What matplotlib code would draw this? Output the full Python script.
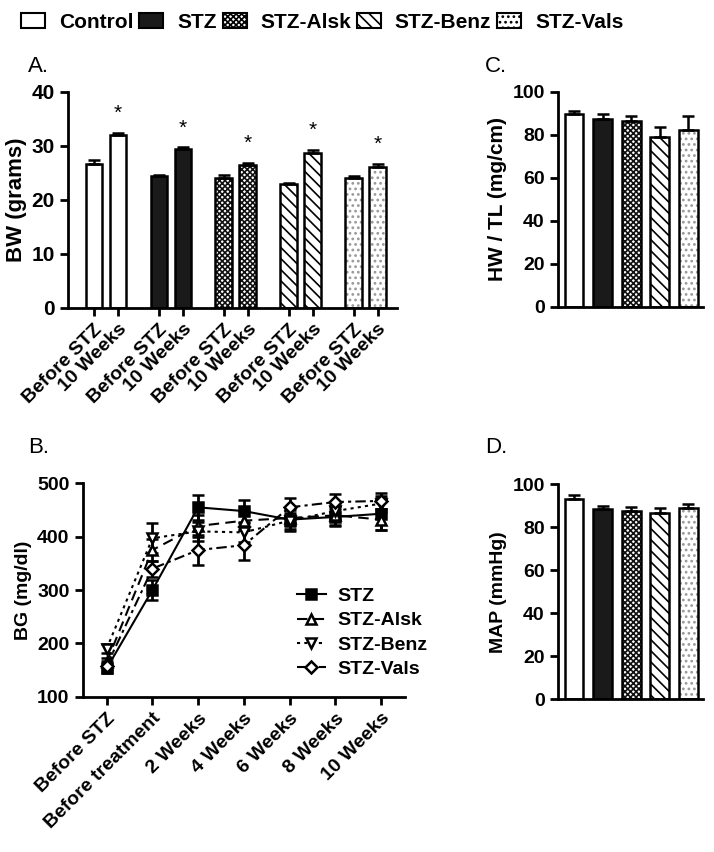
import numpy as np
import matplotlib
import matplotlib.pyplot as plt
from matplotlib.patches import Patch
from matplotlib.lines import Line2D

matplotlib.use('Agg')

plt.rcParams['font.family'] = ['Liberation Sans', 'DejaVu Sans']
plt.rcParams['font.weight'] = 'bold'
plt.rcParams['hatch.linewidth'] = 1.2

# groups and values
groups = ['Control', 'STZ', 'STZ-Alsk', 'STZ-Benz', 'STZ-Vals']
bw_labels = ['Before STZ', '10 Weeks']
bw_before = [26.7, 24.3, 24.1, 22.9, 24.1]
bw_before_err = [0.6, 0.3, 0.4, 0.15, 0.3]
bw_10wk = [31.9, 29.4, 26.4, 28.6, 26.1]
bw_10wk_err = [0.4, 0.3, 0.4, 0.6, 0.5]

hw_tl = [89.6, 87.3, 86.4, 78.8, 82.2]
hw_tl_err = [1.6, 2.3, 2.1, 5.0, 6.5]

mean_ap = [93.2, 88.5, 87.4, 86.8, 88.8]
mean_ap_err = [1.8, 1.6, 2.1, 2.3, 1.9]

timepoints = ['Before STZ', 'Before treatment', '2 Weeks', '4 Weeks',
              '6 Weeks', '8 Weeks', '10 Weeks']
bg_stz = [153, 300, 455, 448, 432, 437, 443]
bg_stz_err = [8, 18, 23, 20, 22, 17, 30]
bg_alsk = [165, 375, 420, 430, 435, 440, 432]
bg_alsk_err = [8, 20, 20, 18, 15, 18, 20]
bg_benz = [190, 397, 410, 408, 430, 448, 462]
bg_benz_err = [8, 28, 18, 18, 15, 15, 15]
bg_vals = [158, 340, 375, 384, 455, 465, 467]
bg_vals_err = [8, 15, 28, 28, 18, 15, 15]

# fill style per group: (facecolor, hatch, hatch colour)
styles = [('white', None, 'k'),
          ('#1a1a1a', None, 'k'),
          ('white', 'xxxxxx', '#111111'),
          ('white', '\\\\\\', 'k'),
          ('white', '...', '#999999')]


def style_axis(ax):
    ax.spines['top'].set_visible(False)
    ax.spines['right'].set_visible(False)
    ax.spines['left'].set_linewidth(2)
    ax.spines['bottom'].set_linewidth(2)
    ax.tick_params(width=2, length=6, labelsize=14)


def draw_bar(ax, x, h, err, width, style):
    face, hatch, hcol = style
    ax.bar(x, h, width, color=face, hatch=hatch, edgecolor=hcol, linewidth=0)
    ax.bar(x, h, width, fill=False, edgecolor='k', linewidth=1.8)
    ax.errorbar(x, h, yerr=[[0], [err]], fmt='none', ecolor='k',
                elinewidth=1.8, capsize=4, capthick=1.8)


fig = plt.figure(figsize=(7.14, 8.52), dpi=100)

# --- A: body weight
axA = fig.add_axes([0.0952, 0.6388, 0.4608, 0.2536])
xticks = []
for i in range(len(groups)):
    for off, vals, errs in [(-0.185, bw_before, bw_before_err),
                            (0.185, bw_10wk, bw_10wk_err)]:
        draw_bar(axA, i + off, vals[i], errs[i], 0.254, styles[i])
        xticks.append(i + off)
    axA.text(i + 0.185, bw_10wk[i] + bw_10wk_err[i] + 3.6, '*',
             ha='center', va='center', fontsize=15, fontweight='normal')
axA.set_xlim(-0.585, 4.485)
axA.set_ylim(0, 40)
axA.set_yticks([0, 10, 20, 30, 40])
axA.set_xticks(xticks)
axA.set_xticklabels(bw_labels * len(groups), rotation=45, ha='right',
                    rotation_mode='anchor')
style_axis(axA)
axA.tick_params(axis='y', labelsize=15)
axA.set_ylabel('BW (grams)', fontsize=16, fontweight='bold', labelpad=3)

# --- C: HW/TL
axC = fig.add_axes([0.7815, 0.640, 0.2031, 0.2523])
for i in range(len(groups)):
    draw_bar(axC, i, hw_tl[i], hw_tl_err[i], 0.66, styles[i])
axC.set_xlim(-0.56, 4.51)
axC.set_ylim(0, 100)
axC.set_yticks([0, 20, 40, 60, 80, 100])
axC.set_xticks([])
style_axis(axC)
axC.set_ylabel('HW / TL (mg/cm)', fontsize=15, fontweight='bold')

# --- D: MAP
axD = fig.add_axes([0.7815, 0.1792, 0.2031, 0.2523])
for i in range(len(groups)):
    draw_bar(axD, i, mean_ap[i], mean_ap_err[i], 0.66, styles[i])
axD.set_xlim(-0.56, 4.51)
axD.set_ylim(0, 100)
axD.set_yticks([0, 20, 40, 60, 80, 100])
axD.set_xticks([])
style_axis(axD)
axD.set_ylabel('MAP (mmHg)', fontsize=14, fontweight='bold')

# --- B: blood glucose
axB = fig.add_axes([0.1158, 0.1823, 0.4514, 0.2504])
x = np.arange(len(timepoints))
series = [('STZ', bg_stz, bg_stz_err, '-', 's', 'k'),
          ('STZ-Alsk', bg_alsk, bg_alsk_err, (0, (5, 3)), '^', 'white'),
          ('STZ-Benz', bg_benz, bg_benz_err, (0, (1.5, 2)), 'v', 'white'),
          ('STZ-Vals', bg_vals, bg_vals_err, (0, (5, 2, 1.5, 2)), 'D', 'white')]
handles = []
for name, vals, errs, ls, mk, mfc in series:
    axB.errorbar(x, vals, yerr=errs, color='k', linestyle=ls, linewidth=1.5,
                 marker=mk, markersize=7 if mk != 'D' else 6,
                 markerfacecolor=mfc, markeredgecolor='k', markeredgewidth=1.8,
                 ecolor='k', elinewidth=2, capsize=4, capthick=2)
    handles.append(Line2D([], [], color='k', linestyle=ls, linewidth=1.5,
                          marker=mk, markersize=7 if mk != 'D' else 6,
                          markerfacecolor=mfc, markeredgecolor='k',
                          markeredgewidth=1.8))
axB.set_xlim(-0.525, 6.525)
axB.set_ylim(100, 500)
axB.set_yticks([100, 200, 300, 400, 500])
axB.set_xticks(x)
axB.set_xticklabels(timepoints, rotation=45, ha='right', rotation_mode='anchor')
style_axis(axB)
axB.set_ylabel('BG (mg/dl)', fontsize=14, fontweight='bold')
axB.legend(handles, [s[0] for s in series], loc='lower left',
           bbox_to_anchor=(0.64, 0.05), frameon=False, fontsize=14,
           handlelength=1.5, handletextpad=0.6, labelspacing=0.35,
           borderaxespad=0)

# panel letters
fig.text(0.039, 0.922, 'A.', fontsize=16, fontweight='normal', va='center')
fig.text(0.679, 0.922, 'C.', fontsize=16, fontweight='normal', va='center')
fig.text(0.039, 0.475, 'B.', fontsize=16, fontweight='normal', va='center')
fig.text(0.679, 0.475, 'D.', fontsize=16, fontweight='normal', va='center')

# top legend
leg_handles = [Patch(facecolor=f, hatch=h, edgecolor='k', linewidth=1.5)
               for f, h, c in styles]
fig.legend(leg_handles, groups, loc='upper left', bbox_to_anchor=(0.018, 0.995),
           ncol=5, frameon=False, fontsize=15, handlelength=1.15,
           handleheight=0.75, handletextpad=0.65, columnspacing=0.3,
           borderaxespad=0)

plt.savefig('out.png', dpi=100)
